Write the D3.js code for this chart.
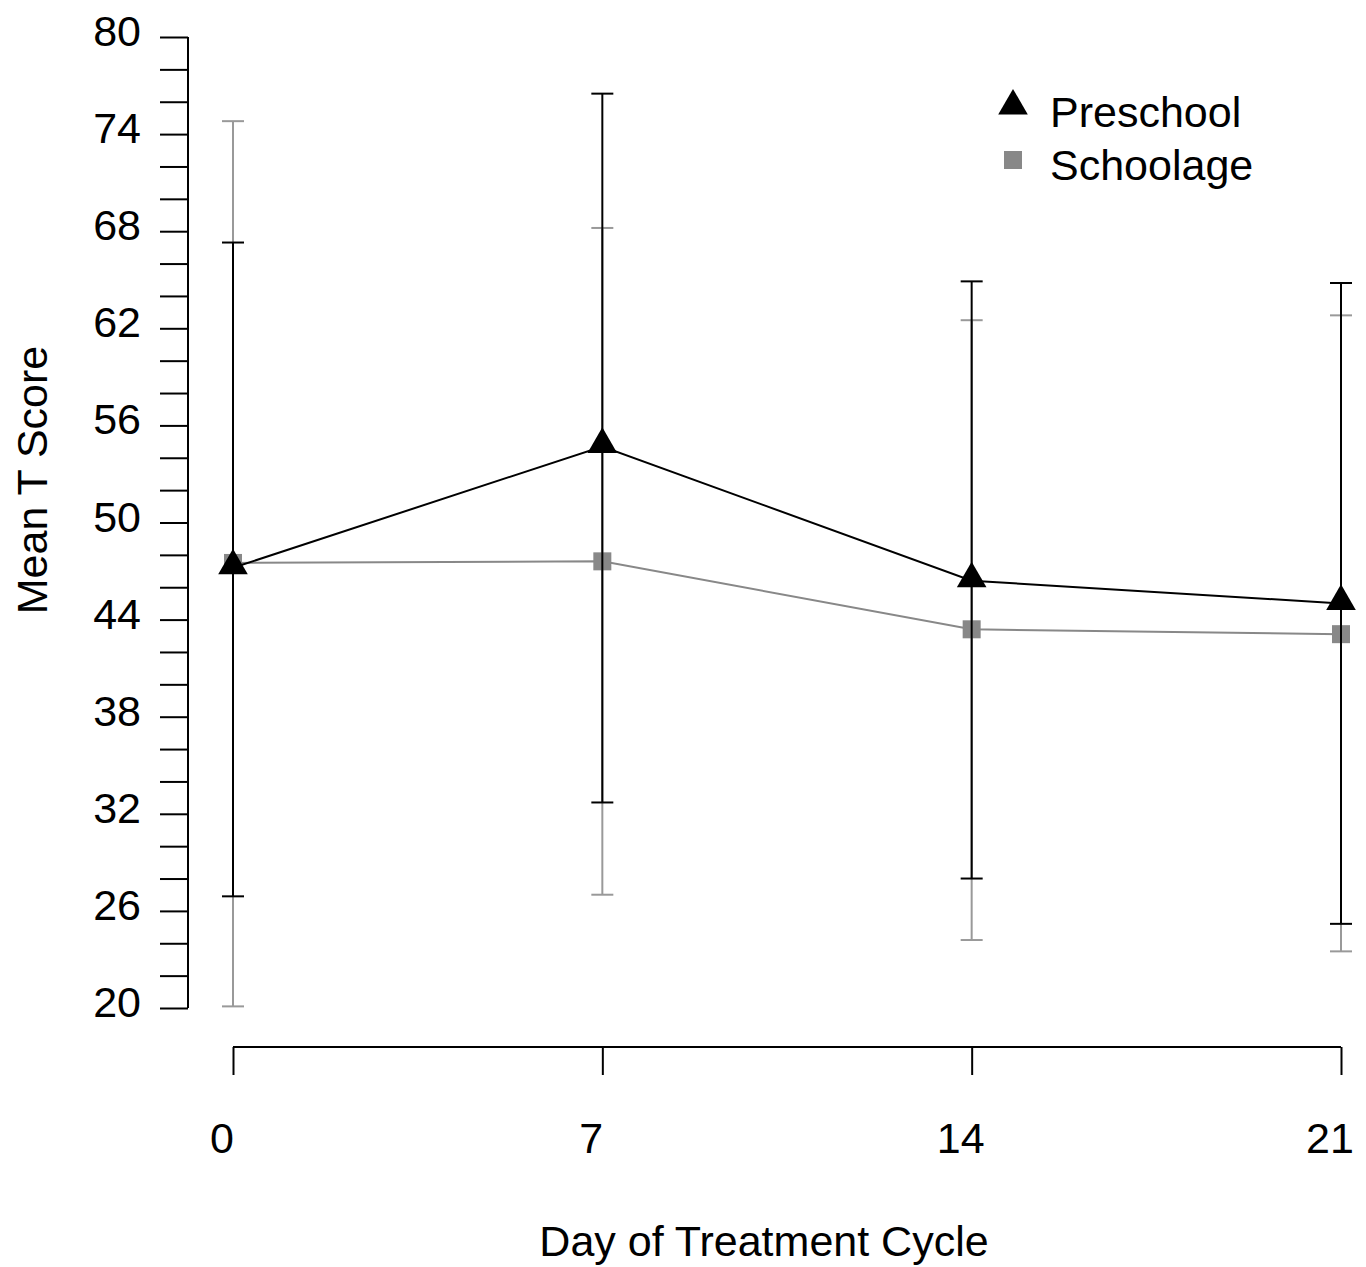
<!DOCTYPE html>
<html>
<head>
<meta charset="utf-8">
<script src="https://cdn.jsdelivr.net/npm/d3@7"></script>
<style>
  body { margin: 0; background: #fff; }
  text { font-family: "Liberation Sans", Arial, sans-serif; }
</style>
</head>
<body>
<div id="chart"></div>
<script>
// values
const days = [0, 7, 14, 21];
const yTicks = [20, 26, 32, 38, 44, 50, 56, 62, 68, 74, 80];
const yMinorTicks = d3.range(20, 81, 2);

const preMean = [47.2, 54.7, 46.4, 45.0];
const preLow  = [26.9, 32.7, 28.0, 25.2];
const preHigh = [67.3, 76.5, 64.9, 64.8];

const schMean = [47.5, 47.6, 43.4, 43.1];
const schLow  = [20.1, 27.0, 24.2, 23.5];
const schHigh = [74.8, 68.2, 62.5, 62.8];

const series = [
  { name: 'Schoolage', mean: schMean, low: schLow, high: schHigh, color: '#888', bar: '#999', shape: 'square' },
  { name: 'Preschool', mean: preMean, low: preLow, high: preHigh, color: '#000', bar: '#000', shape: 'triangle' }
];

const width = 1366, height = 1267;
const fontSize = '43px';

const svg = d3.select('#chart').append('svg')
  .attr('width', width)
  .attr('height', height);

const x = d3.scaleLinear().domain([0, 21]).range([233, 1341]);
const y = d3.scaleLinear().domain([20, 80]).range([1008, 37]);

// y axis: minor ticks unlabeled, major labeled
svg.append('g')
  .attr('transform', 'translate(188,0)')
  .call(d3.axisLeft(y).tickValues(yMinorTicks).tickSize(28).tickFormat(''))
  .call(g => g.select('.domain').attr('d', `M0,${y(20)}V${y(80)}`))
  .call(g => g.selectAll('line, path').attr('stroke', '#000').attr('stroke-width', 2));

svg.append('g').selectAll('text')
  .data(yTicks)
  .enter().append('text')
  .attr('x', 141)
  .attr('y', d => y(d) - 6)
  .attr('dy', '0.35em')
  .attr('text-anchor', 'end')
  .style('font-size', fontSize)
  .text(d => d);

// x axis
svg.append('g')
  .attr('transform', 'translate(0,1047)')
  .call(d3.axisBottom(x).tickValues(days).tickSize(28).tickFormat(''))
  .call(g => g.select('.domain').attr('d', `M${x(0)},0H${x(21)}`))
  .call(g => g.selectAll('line, path').attr('stroke', '#000').attr('stroke-width', 2));

svg.append('g').selectAll('text')
  .data(days)
  .enter().append('text')
  .attr('x', d => x(d) - 11)
  .attr('y', 1138)
  .attr('dy', '0.35em')
  .attr('text-anchor', 'middle')
  .style('font-size', fontSize)
  .text(d => d);

// axis titles
svg.append('text')
  .attr('x', 764)
  .attr('y', 1241)
  .attr('dy', '0.35em')
  .attr('text-anchor', 'middle')
  .style('font-size', fontSize)
  .text('Day of Treatment Cycle');

svg.append('text')
  .attr('transform', 'translate(32,480) rotate(-90)')
  .attr('dy', '0.35em')
  .attr('text-anchor', 'middle')
  .style('font-size', fontSize)
  .text('Mean T Score');

const triangle = d3.symbol().type(d3.symbolTriangle).size(380);
const line = d3.line().x((d, i) => x(days[i])).y(d => y(d));

series.forEach(s => {
  const g = svg.append('g');

  // error bars
  days.forEach((d, i) => {
    g.append('line')
      .attr('x1', x(d)).attr('x2', x(d))
      .attr('y1', y(s.low[i])).attr('y2', y(s.high[i]))
      .attr('stroke', s.bar).attr('stroke-width', 2);
    [s.low[i], s.high[i]].forEach(v => {
      g.append('line')
        .attr('x1', x(d) - 11).attr('x2', x(d) + 11)
        .attr('y1', y(v)).attr('y2', y(v))
        .attr('stroke', s.bar).attr('stroke-width', 2);
    });
  });

  g.append('path')
    .attr('d', line(s.mean))
    .attr('fill', 'none')
    .attr('stroke', s.color)
    .attr('stroke-width', 2);

  if (s.shape === 'triangle') {
    g.selectAll('.pt').data(s.mean).enter().append('path')
      .attr('d', triangle)
      .attr('transform', (v, i) => `translate(${x(days[i])},${y(v) - 2})`)
      .attr('fill', s.color);
  } else {
    g.selectAll('.pt').data(s.mean).enter().append('rect')
      .attr('x', (v, i) => x(days[i]) - 9)
      .attr('y', v => y(v) - 9)
      .attr('width', 18).attr('height', 18)
      .attr('fill', s.color);
  }
});

// legend
const legend = svg.append('g');
legend.append('path')
  .attr('d', triangle)
  .attr('transform', 'translate(1013,106)')
  .attr('fill', '#000');
legend.append('text')
  .attr('x', 1050).attr('y', 112)
  .attr('dy', '0.35em')
  .style('font-size', fontSize)
  .text('Preschool');
legend.append('rect')
  .attr('x', 1004).attr('y', 151)
  .attr('width', 18).attr('height', 18)
  .attr('fill', '#888');
legend.append('text')
  .attr('x', 1050).attr('y', 165)
  .attr('dy', '0.35em')
  .style('font-size', fontSize)
  .text('Schoolage');
</script>
</body>
</html>
